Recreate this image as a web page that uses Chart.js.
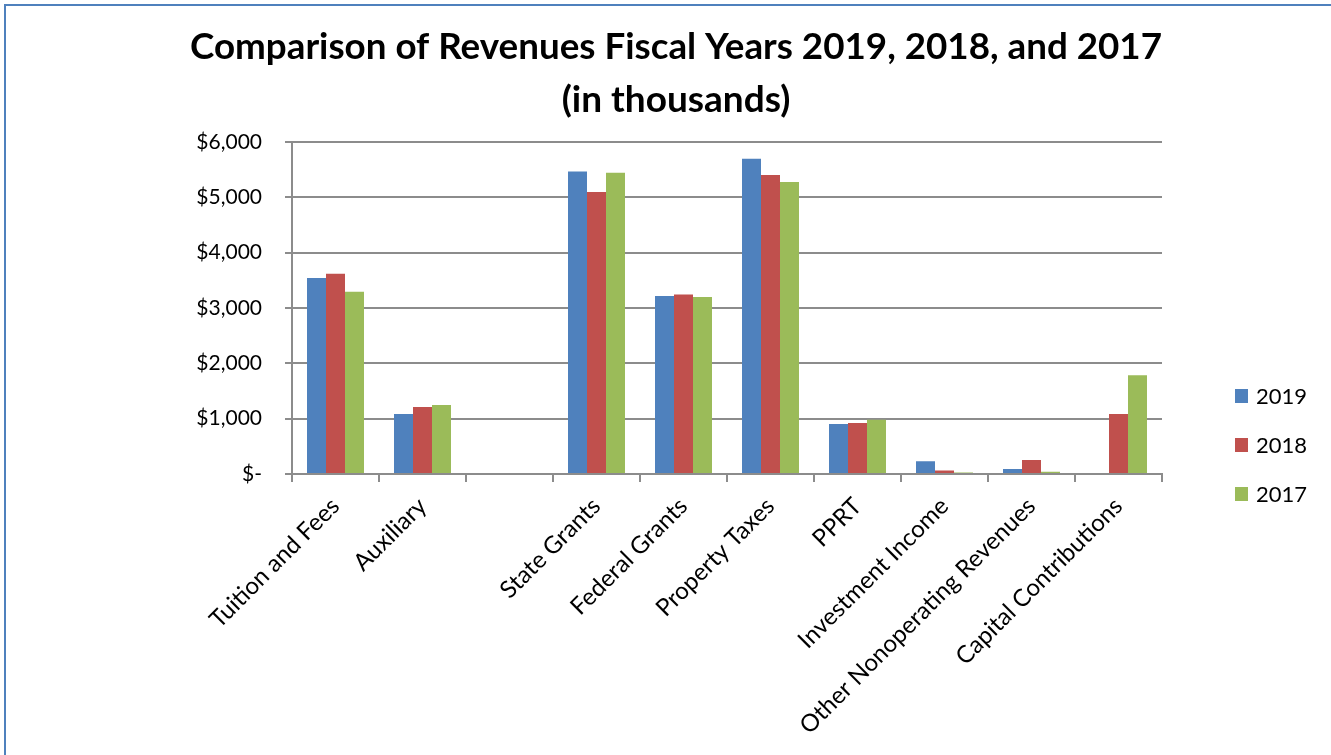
<!DOCTYPE html>
<html>
<head>
<meta charset="utf-8">
<script src="https://cdn.jsdelivr.net/npm/chart.js@4"></script>
<style>
  html, body { margin: 0; padding: 0; background: #fff; overflow: hidden; }
  #wrap { position: absolute; left: 0; top: 0; width: 1331px; height: 755px; }
  #frame { position: absolute; left: 4px; top: 4px; width: 1400px; height: 800px;
           border-top: 2px solid #4f81bd; border-left: 2px solid #4f81bd; }
</style>
</head>
<body>
<div id="frame"></div>
<div id="wrap"><canvas id="revChart" width="1331" height="755"></canvas></div>
<script>
// categories (one blank slot like in the original sheet)
const categories = ['Tuition and Fees', 'Auxiliary', '', 'State Grants', 'Federal Grants',
    'Property Taxes', 'PPRT', 'Investment Income', 'Other Nonoperating Revenues', 'Capital Contributions'];

// values in thousands
const fy2019 = [3540, 1085, null, 5465, 3215, 5695, 905, 230, 90, 0];
const fy2018 = [3615, 1210, null, 5095, 3240, 5400, 920, 65, 255, 1085];
const fy2017 = [3290, 1245, null, 5440, 3195, 5275, 980, 25, 40, 1785];

const yTicks = [0, 1000, 2000, 3000, 4000, 5000, 6000];

const fontFam = "Lato, 'Open Sans', sans-serif";
const gridGray = '#8c8c8c';

// legend drawn at the right, like the Excel one (not centred on the plot)
const sideLegend = {
    id: 'sideLegend',
    afterDraw: function (chart) {
        let c = chart.ctx;
        c.save();
        c.font = '22px ' + fontFam;
        c.textBaseline = 'middle';
        chart.data.datasets.forEach(function (ds, i) {
            let cy = 396 + i * 49;
            c.fillStyle = ds.backgroundColor;
            c.fillRect(1235, cy - 7, 13, 14);
            c.fillStyle = '#000';
            c.fillText(ds.label, 1256, cy + 1);
        });
        c.restore();
    }
};

let ctx = document.getElementById('revChart').getContext('2d');

let myChart = new Chart(ctx, {
    type: 'bar',
    data: {
        labels: categories,
        datasets: [
            { label: '2019', data: fy2019, backgroundColor: '#4f81bd' },
            { label: '2018', data: fy2018, backgroundColor: '#c0504d' },
            { label: '2017', data: fy2017, backgroundColor: '#9bbb59' }
        ]
    },
    plugins: [sideLegend],
    options: {
        responsive: false,
        animation: false,
        layout: { padding: { left: 190, right: 169, top: 0, bottom: 0 } },
        datasets: {
            bar: { categoryPercentage: 0.655, barPercentage: 1.0 }
        },
        plugins: {
            title: {
                display: true,
                text: ['Comparison of Revenues Fiscal Years 2019, 2018, and 2017', '(in thousands)'],
                color: '#000',
                font: { family: fontFam, size: 37, weight: 'bold', lineHeight: 1.43 },
                padding: { top: 21, bottom: 15 }
            },
            legend: { display: false },
            tooltip: { enabled: false }
        },
        scales: {
            x: {
                afterFit: function (axis) { axis.height = 281; },
                grid: { display: true, drawOnChartArea: false, drawTicks: true, tickLength: 8, color: gridGray, lineWidth: 2 },
                border: { display: true, color: gridGray, width: 2 },
                ticks: {
                    color: '#000',
                    font: { family: fontFam, size: 24 },
                    maxRotation: 45,
                    minRotation: 45,
                    autoSkip: false,
                    padding: 10
                }
            },
            y: {
                min: 0,
                max: 6000,
                afterFit: function (axis) { axis.width = 102; },
                afterBuildTicks: function (axis) {
                    axis.ticks = yTicks.map(function (v) { return { value: v }; });
                },
                grid: { color: gridGray, lineWidth: 2, drawTicks: true, tickLength: 7 },
                border: { display: true, color: gridGray, width: 2 },
                ticks: {
                    color: '#000',
                    font: { family: fontFam, size: 21 },
                    padding: 23,
                    callback: function (value) {
                        if (value === 0) return '$-';
                        return '$' + value.toLocaleString('en-US');
                    }
                }
            }
        }
    }
});
</script>
</body>
</html>
